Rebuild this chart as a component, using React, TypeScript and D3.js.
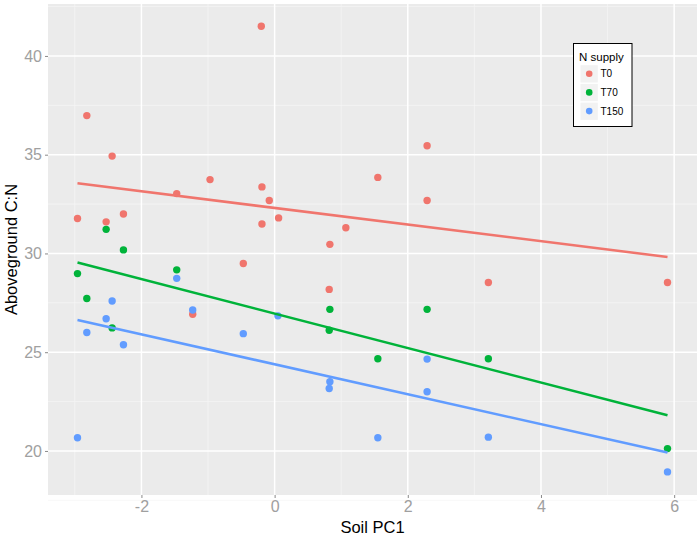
import { useEffect, useRef } from "react";
import * as d3 from "d3";

// N supply groups
const groups = ["T0", "T70", "T150"];
const groupColors = ["#F0756D", "#00B33A", "#619CFF"];

// Soil PC1 / Aboveground C:N per group
const t0X = [-0.2, -2.82, -2.44, -0.97, -1.47, -0.19, -0.08, -2.96, -2.53, -2.27, -0.19, 0.06, 1.07, 0.83, -0.47, 2.29, 1.55, 2.29, 0.82, -1.23, 3.21, 5.9];
const t0Y = [41.5, 36.98, 34.93, 33.74, 33.03, 33.37, 32.68, 31.77, 31.6, 32.0, 31.49, 31.8, 31.3, 30.46, 29.49, 35.45, 33.85, 32.68, 28.18, 26.92, 28.53, 28.53];

const t70X = [-2.53, -2.27, -1.47, -2.96, -2.82, -2.44, 0.83, 0.82, 2.29, 1.55, 3.21, 5.9];
const t70Y = [31.22, 30.18, 29.17, 28.98, 27.72, 26.23, 27.17, 26.11, 27.17, 24.67, 24.67, 20.12];

const t150X = [-1.47, -2.44, -2.53, -2.82, -2.27, -1.23, 0.05, -0.47, -2.96, 0.83, 0.82, 2.29, 2.29, 1.55, 3.21, 5.9];
const t150Y = [28.74, 27.59, 26.69, 26.0, 25.38, 27.14, 26.84, 25.94, 20.67, 23.51, 23.16, 24.65, 23.0, 20.67, 20.7, 18.94];

// fitted lines (start, end)
const fitX = [-2.96, 5.9];
const t0Fit = [33.55, 29.82];
const t70Fit = [29.54, 21.81];
const t150Fit = [26.63, 19.92];

const xTicks = [-2, 0, 2, 4, 6];
const xMinor = [-3, -1, 1, 3, 5];
const yTicks = [20, 25, 30, 35, 40];
const yMinor = [17.5, 22.5, 27.5, 32.5, 37.5, 42.5];

export default function App() {
  const svgRef = useRef<SVGSVGElement | null>(null);

  useEffect(() => {
    if (!svgRef.current) return;
    document.body.style.margin = "0";
    const W = 700;
    const H = 537;
    const margin = { top: 4, right: 3, bottom: 42, left: 48 };
    const width = W - margin.left - margin.right;
    const height = H - margin.top - margin.bottom;

    d3.select(svgRef.current).selectAll("*").remove();
    const root = d3.select(svgRef.current).attr("width", W).attr("height", H);
    root.append("rect").attr("width", W).attr("height", H).attr("fill", "#fff");

    const svg = root.append("g").attr("transform", `translate(${margin.left},${margin.top})`);

    const x = d3.scaleLinear().domain([-3.403, 6.343]).range([0, width]);
    const y = d3.scaleLinear().domain([17.77, 42.63]).range([height, 0]);

    svg.append("rect").attr("width", width).attr("height", height).attr("fill", "#EBEBEB");

    // grid
    const grid = svg.append("g");
    grid.selectAll(".xmin").data(xMinor).enter().append("line")
      .attr("x1", (d) => x(d)).attr("x2", (d) => x(d)).attr("y1", 0).attr("y2", height)
      .attr("stroke", "#F5F5F5").attr("stroke-width", 0.8);
    grid.selectAll(".ymin").data(yMinor).enter().append("line")
      .attr("y1", (d) => y(d)).attr("y2", (d) => y(d)).attr("x1", 0).attr("x2", width)
      .attr("stroke", "#F5F5F5").attr("stroke-width", 0.8);
    grid.selectAll(".xmaj").data(xTicks).enter().append("line")
      .attr("x1", (d) => x(d)).attr("x2", (d) => x(d)).attr("y1", 0).attr("y2", height)
      .attr("stroke", "#fff").attr("stroke-width", 1.5);
    grid.selectAll(".ymaj").data(yTicks).enter().append("line")
      .attr("y1", (d) => y(d)).attr("y2", (d) => y(d)).attr("x1", 0).attr("x2", width)
      .attr("stroke", "#fff").attr("stroke-width", 1.5);

    const series = [
      { xs: t0X, ys: t0Y, fit: t0Fit },
      { xs: t70X, ys: t70Y, fit: t70Fit },
      { xs: t150X, ys: t150Y, fit: t150Fit },
    ];

    // points
    series.forEach((s, i) => {
      svg.append("g").selectAll("circle").data(s.xs).enter().append("circle")
        .attr("cx", (d) => x(d))
        .attr("cy", (_d, j) => y(s.ys[j]))
        .attr("r", 3.7)
        .attr("fill", groupColors[i]);
    });

    // fitted lines
    series.forEach((s, i) => {
      const line = d3.line<number>().x((d) => x(d)).y((_d, j) => y(s.fit[j]));
      svg.append("path").datum(fitX).attr("fill", "none")
        .attr("stroke", groupColors[i]).attr("stroke-width", 2.5).attr("d", line);
    });

    // axes
    const fontFamily = "Liberation Sans, Arial, sans-serif";
    const xAxis = svg.append("g").attr("transform", `translate(0,${height})`)
      .call(d3.axisBottom(x).tickValues(xTicks).tickSize(3).tickPadding(3).tickFormat(d3.format("d")));
    const yAxis = svg.append("g")
      .call(d3.axisLeft(y).tickValues(yTicks).tickSize(3).tickPadding(3).tickFormat(d3.format("d")));
    [xAxis, yAxis].forEach((a) => {
      a.select(".domain").remove();
      a.selectAll(".tick line").attr("stroke", "#8a8a8a");
      a.selectAll(".tick text").attr("fill", "#a0a0a0").attr("font-size", 16).attr("font-family", fontFamily);
    });
    xAxis.selectAll(".tick text").text((d) => String(d));

    root.append("text").text("Soil PC1")
      .attr("x", margin.left + width / 2).attr("y", 532.5)
      .attr("text-anchor", "middle").attr("font-size", 16.5).attr("font-family", fontFamily).attr("fill", "#000");
    root.append("text").text("Aboveground C:N")
      .attr("transform", `translate(17,${margin.top + height / 2}) rotate(-90)`)
      .attr("text-anchor", "middle").attr("font-size", 16.5).attr("font-family", fontFamily).attr("fill", "#000");

    // legend
    const lg = root.append("g").attr("transform", "translate(573.5,43.5)");
    lg.append("rect").attr("width", 58.5).attr("height", 83).attr("fill", "#fff")
      .attr("stroke", "#000").attr("stroke-width", 1);
    lg.append("text").text("N supply").attr("x", 5.5).attr("y", 17.5)
      .attr("font-size", 11.5).attr("font-family", fontFamily).attr("fill", "#000");
    groups.forEach((g, i) => {
      const cy = 30.2 + i * 18.7;
      lg.append("rect").attr("x", 7).attr("y", cy - 8.5).attr("width", 17.3).attr("height", 17.3).attr("fill", "#F2F2F2");
      lg.append("circle").attr("cx", 15.7).attr("cy", cy).attr("r", 3.3).attr("fill", groupColors[i]);
      lg.append("text").text(g).attr("x", 27).attr("y", cy + 3.6)
        .attr("font-size", 10).attr("font-family", fontFamily).attr("fill", "#000");
    });
  }, []);

  return <svg ref={svgRef} style={{ display: "block" }} />;
}
